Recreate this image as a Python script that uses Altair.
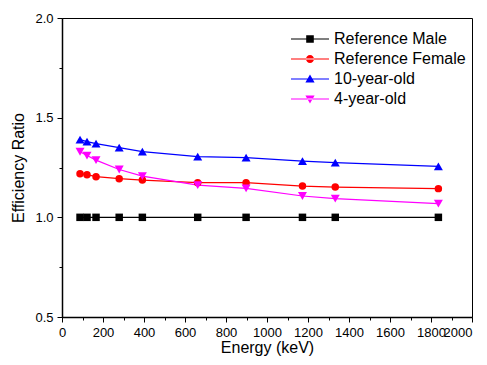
import altair as alt
import pandas as pd

energy = [88, 122, 166, 279, 392, 662, 898, 1173, 1333, 1836]
ref_male = [1.0, 1.0, 1.0, 1.0, 1.0, 1.0, 1.0, 1.0, 1.0, 1.0]
ref_female = [1.219, 1.214, 1.204, 1.194, 1.187, 1.174, 1.174, 1.157, 1.152, 1.144]
ten_year = [1.39, 1.38, 1.37, 1.35, 1.33, 1.305, 1.30, 1.282, 1.274, 1.256]
four_year = [1.329, 1.31, 1.287, 1.24, 1.207, 1.162, 1.145, 1.107, 1.094, 1.069]

series_names = ["Reference Male", "Reference Female", "10-year-old", "4-year-old"]
series_values = [ref_male, ref_female, ten_year, four_year]
colors = ["#000000", "#ff0000", "#0000ff", "#ff00ff"]
shapes = ["square", "circle", "triangle-up", "triangle-down"]
sizes = [56, 56, 81, 81]

# legend symbols: a short line with the marker in its middle
bar = "M-1.9,-0.055H1.9V0.055H-1.9Z"
legend_paths = [
    bar + "M-0.38,-0.38H0.38V0.38H-0.38Z",
    bar + "M-0.4,0A0.4,0.4 0 1,0 0.4,0A0.4,0.4 0 1,0 -0.4,0Z",
    bar + "M0,-0.44L0.46,0.36L-0.46,0.36Z",
    bar + "M0,0.44L0.46,-0.36L-0.46,-0.36Z",
]

rows = []
for name, vals in zip(series_names, series_values):
    for e, v in zip(energy, vals):
        rows.append({"series": name, "energy": e, "ratio": v})
df = pd.DataFrame(rows)

font = "Liberation Sans"
color_scale = alt.Scale(domain=series_names, range=colors)

x_enc = alt.X(
    "energy:Q",
    scale=alt.Scale(domain=[0, 2000], nice=False),
    axis=alt.Axis(
        title="Energy (keV)",
        values=list(range(0, 2001, 100)),
        labelExpr="datum.value % 200 === 0 ? format(datum.value, 'd') : ''",
        labelAlign={"condition": {"test": "datum.value === 2000", "value": "right"}, "value": "center"},
        tickSize={"condition": {"test": "datum.value % 200 === 0", "value": 5}, "value": 3},
        grid=False,
        labelOverlap=False,
        labelPadding=4,
        titlePadding=0,
        labelFlush=False,
    ),
)
y_enc = alt.Y(
    "ratio:Q",
    scale=alt.Scale(domain=[0.5, 2.0], nice=False, zero=False),
    axis=alt.Axis(
        title="Efficiency Ratio",
        values=[0.5, 0.75, 1.0, 1.25, 1.5, 1.75, 2.0],
        labelExpr="(datum.value * 4) % 2 === 0 ? format(datum.value, '.1f') : ''",
        tickSize={"condition": {"test": "(datum.value * 4) % 2 === 0", "value": 5}, "value": 3},
        grid=False,
        labelOverlap=False,
        labelPadding=4,
        titlePadding=8,
        labelFlush=False,
    ),
)

base = alt.Chart(df)

leg_props = dict(
    title=None,
    orient="none",
    legendX=237,
    legendY=10,
    padding=0,
    symbolSize=400,
    symbolOpacity=1,
    labelFont=font,
    labelFontSize=16,
    labelColor="black",
    labelOffset=13,
    rowPadding=1,
)
# legend-only layer: its marks are filtered out, the legend comes from the scales
legend_layer = base.transform_filter(alt.datum.energy < 0).mark_point(filled=True).encode(
    x=x_enc, y=y_enc,
    color=alt.Color("series:N", scale=color_scale, legend=alt.Legend(**leg_props)),
    shape=alt.Shape("series:N", scale=alt.Scale(domain=series_names, range=legend_paths),
                    legend=alt.Legend(**leg_props)),
)

lines = base.mark_line(strokeWidth=1.2).encode(
    x=x_enc, y=y_enc,
    color=alt.Color("series:N", scale=color_scale, legend=None),
)

point_layers = []
for name, sh, sz in zip(series_names, shapes, sizes):
    point_layers.append(
        base.transform_filter(alt.datum.series == name)
        .mark_point(shape=sh, filled=True, size=sz, opacity=1)
        .encode(x=x_enc, y=y_enc, color=alt.Color("series:N", scale=color_scale, legend=None))
    )

chart = alt.layer(legend_layer, lines, *point_layers).resolve_legend(
    color="independent", shape="independent"
).properties(
    width=410,
    height=299,
    padding={"left": 54, "top": 10, "right": 7, "bottom": 40},
    autosize=alt.AutoSizeParams(type="none"),
    background="white",
).configure_view(
    stroke="black", strokeWidth=1
).configure_axis(
    domainColor="black", domainWidth=1.5, tickColor="black", tickWidth=1,
    labelFont=font, labelFontSize=13, labelColor="black",
    titleFont=font, titleFontSize=16, titleFontWeight="normal", titleColor="black",
)

chart.save("out.html", embed_options={"renderer": "svg", "actions": False})
